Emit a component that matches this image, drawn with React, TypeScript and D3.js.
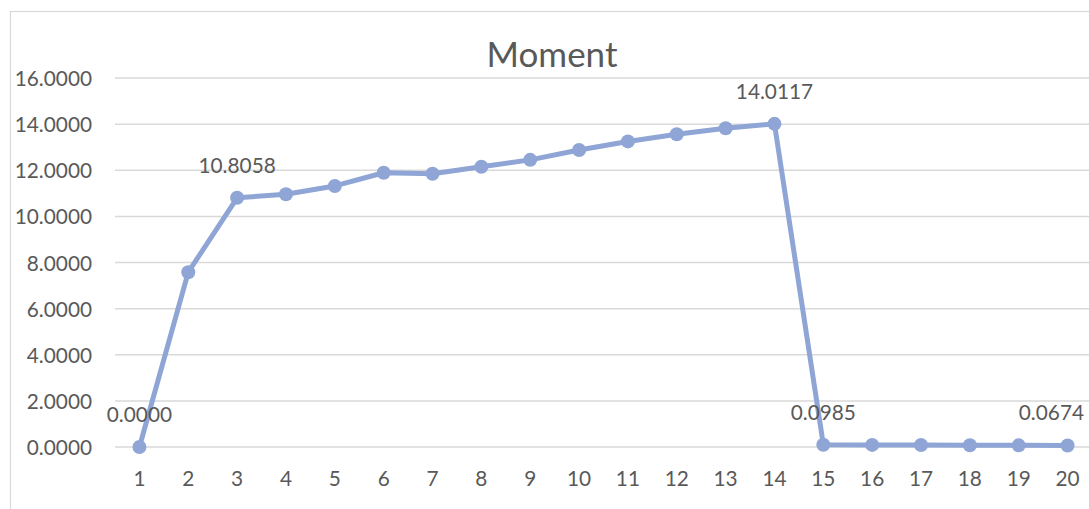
import React, { useEffect, useRef } from "react";
import * as d3 from "d3";

const categories = ["1","2","3","4","5","6","7","8","9","10","11","12","13","14","15","16","17","18","19","20"];
const values = [0, 7.58, 10.8058, 10.96, 11.32, 11.89, 11.85, 12.15, 12.45, 12.88, 13.25, 13.56, 13.82, 14.0117, 0.0985, 0.09, 0.085, 0.075, 0.072, 0.0674];
const yTicks = [0, 2, 4, 6, 8, 10, 12, 14, 16];
const labeledIdx = [0, 2, 13, 14, 19];
const title = "Moment";

const W = 1089, H = 509;
const FONT = "Lato, 'Open Sans', sans-serif";
const TXT = "#595959";
const LINE = "#8FA5D6";
const FS = 20.8;

export default function App() {
  const ref = useRef<SVGSVGElement>(null);
  useEffect(() => {
    const svg = d3.select(ref.current);
    svg.selectAll("*").remove();
    const left = 115, right = 1092, top = 78, bottom = 447;
    const x = d3.scaleBand().domain(categories).range([left, right]);
    const y = d3.scaleLinear().domain([0, 16]).range([bottom, top]);
    const cx = (i: number) => (x(categories[i]) as number) + x.bandwidth() / 2;

    svg.append("rect").attr("x", 10.5).attr("y", 11.5).attr("width", 1100).attr("height", 520)
      .attr("fill", "white").attr("stroke", "#D9D9D9").attr("stroke-width", 1.2);

    svg.append("text").attr("x", 552).attr("y", 67).attr("text-anchor", "middle")
      .attr("font-family", FONT).attr("font-size", 35).attr("fill", TXT).text(title);

    const g = svg.append("g");
    g.selectAll("line.grid").data(yTicks).enter().append("line")
      .attr("x1", left).attr("x2", right).attr("y1", d => y(d)).attr("y2", d => y(d))
      .attr("stroke", "#D9D9D9").attr("stroke-width", 1.5);

    g.selectAll("text.yl").data(yTicks).enter().append("text")
      .attr("x", 92).attr("y", d => y(d) + 8).attr("text-anchor", "end")
      .attr("font-family", FONT).attr("font-size", FS).attr("fill", TXT)
      .text(d => d.toFixed(4));

    g.selectAll("text.xl").data(categories).enter().append("text")
      .attr("x", (d, i) => cx(i)).attr("y", 486).attr("text-anchor", "middle")
      .attr("font-family", FONT).attr("font-size", FS).attr("fill", TXT)
      .text(d => d);

    const line = d3.line<number>().x((d, i) => cx(i)).y(d => y(d));
    g.append("path").datum(values).attr("d", line).attr("fill", "none")
      .attr("stroke", LINE).attr("stroke-width", 5).attr("stroke-linejoin", "round");

    g.selectAll("circle").data(values).enter().append("circle")
      .attr("cx", (d, i) => cx(i)).attr("cy", d => y(d)).attr("r", 7).attr("fill", LINE);

    const labels = g.selectAll("text.dl").data(labeledIdx).enter().append("text")
      .attr("y", i => y(values[i]) - 25)
      .attr("font-family", FONT).attr("font-size", FS).attr("fill", TXT)
      .attr("text-anchor", "middle")
      .text(i => values[i].toFixed(4));
    labels.each(function (i) {
      const el = this as SVGTextElement;
      const w = el.getComputedTextLength();
      const px = Math.min(cx(i), 1084 - w / 2);
      el.setAttribute("x", String(px));
    });
  }, []);
  return (
    <svg ref={ref} width={W} height={H} style={{ position: "absolute", left: 0, top: 0 }} />
  );
}
